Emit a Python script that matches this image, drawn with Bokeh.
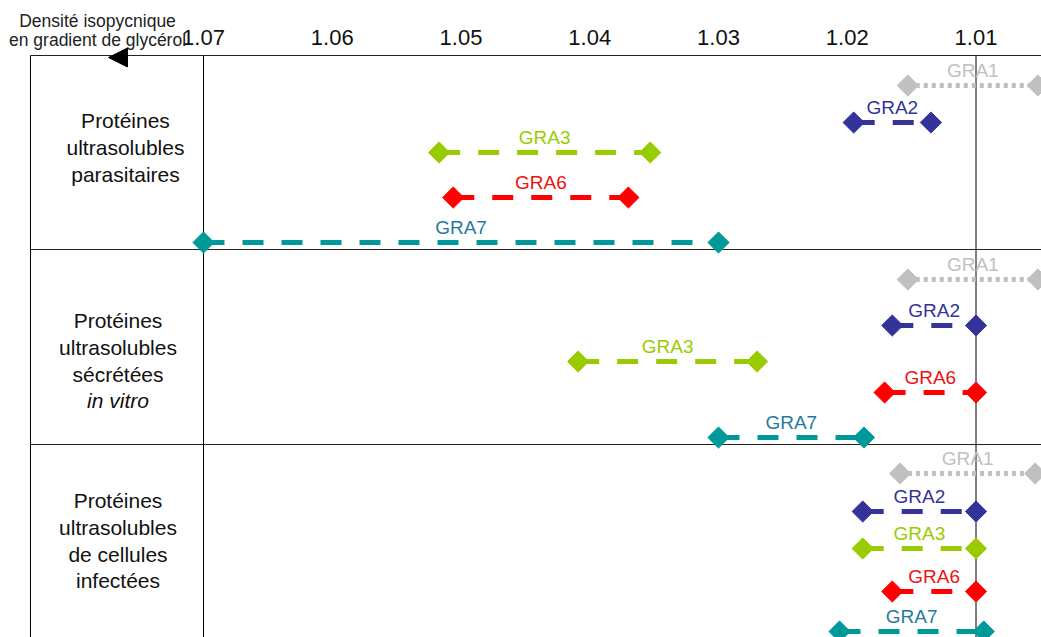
import math
from bokeh.plotting import figure
from bokeh.models import Range1d, Arrow, NormalHead
from bokeh.core.properties import value
from bokeh.embed import file_html
from bokeh.resources import INLINE

# ---------------- data ----------------
proteins = ["GRA1", "GRA2", "GRA3", "GRA6", "GRA7"]
conditions = [
    ["Protéines", "ultrasolubles", "parasitaires"],
    ["Protéines", "ultrasolubles", "sécrétées", "in vitro"],
    ["Protéines", "ultrasolubles", "de cellules", "infectées"],
]
italic_lines = ["in vitro"]
# density at the dense (left) end and at the light (right) end of each range
dense_parasitaires = [1.0153, 1.0195, 1.0517, 1.0506, 1.0700]
light_parasitaires = [1.0052, 1.0135, 1.0353, 1.0370, 1.0300]
dense_secretees = [1.0153, 1.0165, 1.0409, 1.0171, 1.0300]
light_secretees = [1.0052, 1.0100, 1.0270, 1.0100, 1.0187]
dense_cellules = [1.0159, 1.0188, 1.0188, 1.0165, 1.0206]
light_cellules = [1.0054, 1.0100, 1.0100, 1.0100, 1.0094]
density_ticks = [1.07, 1.06, 1.05, 1.04, 1.03, 1.02, 1.01]
tick_labels = ["1.07", "1.06", "1.05", "1.04", "1.03", "1.02", "1.01"]
axis_title = ["Densité isopycnique", "en gradient de glycérol"]

dense = [dense_parasitaires, dense_secretees, dense_cellules]
light = [light_parasitaires, light_secretees, light_cellules]

# ---------------- layout / style ----------------
FONT = value("Liberation Sans")
line_colors = {"GRA1": "#c0c0c0", "GRA2": "#333399", "GRA3": "#99cc00",
               "GRA6": "#ff0000", "GRA7": "#009999"}
text_colors = {"GRA1": "#c0c0c0", "GRA2": "#333399", "GRA3": "#99cc00",
               "GRA6": "#ee1111", "GRA7": "#1f7a9e"}
dashes = {"GRA1": "4 4", "GRA2": "21 18", "GRA3": "21 18", "GRA6": "21 18", "GRA7": "21 18"}

X_START, X_END = 1.085767, 1.004913      # density range across the canvas (reversed)
X_BORDER = 1.083437                      # left border of the table
panel_tops = [55, 249, 444]
Y_BOTTOM = 637
lane_offsets = [[30, 67, 97, 142, 187],
                [30, 76, 112, 143, 188],
                [29, 67, 104, 147, 187]]
cat_first_mid = [65, 71, 56]
cat_line_step = 26.8
cat_x = [1.07606, 1.07664, 1.07664]
title_x = 1.07823
title_mid = [20, 39]
tick_mid = 37

p = figure(width=1041, height=637, output_backend="svg", toolbar_location=None,
           x_range=Range1d(X_START, X_END), y_range=Range1d(Y_BOTTOM, 0),
           x_axis_location=None, y_axis_location=None, min_border=0)
p.outline_line_color = None
p.xgrid.visible = False
p.ygrid.visible = False
p.background_fill_color = "white"
p.border_fill_color = "white"

# table lines
p.segment(x0=[X_BORDER] * 3, y0=panel_tops, x1=[X_END] * 3, y1=panel_tops,
          line_color="#222222", line_width=1.2)
vlines = [X_BORDER, density_ticks[0], density_ticks[-1]]
p.segment(x0=vlines, y0=[panel_tops[0]] * 3, x1=vlines, y1=[Y_BOTTOM] * 3,
          line_color="black", line_width=1)

# density scale labels (top)
p.text(x=density_ticks, y=[tick_mid] * len(density_ticks), text=tick_labels,
       text_align="center", text_baseline="middle", text_font=FONT,
       text_font_size="22px", text_color="#111111")

# ranges
for pi_, top in enumerate(panel_tops):
    for k, name in enumerate(proteins):
        y = top + lane_offsets[pi_][k]
        x0 = dense[pi_][k]
        x1 = light[pi_][k]
        p.segment(x0=[x0], y0=[y], x1=[x1], y1=[y], line_color=line_colors[name],
                  line_width=5, line_dash=dashes[name], line_cap="butt")
        p.scatter(x=[x0, x1], y=[y, y], marker="square", angle=math.pi / 4, size=15,
                  fill_color=line_colors[name], line_color=line_colors[name])
        p.text(x=[(x0 + x1) / 2], y=[y - 15], text=[name], text_align="center",
               text_baseline="middle", text_font=FONT, text_font_size="19px",
               text_color=text_colors[name])

# condition labels
for pi_, top in enumerate(panel_tops):
    for j, line in enumerate(conditions[pi_]):
        p.text(x=[cat_x[pi_]], y=[top + cat_first_mid[pi_] + j * cat_line_step],
               text=[line], text_align="center", text_baseline="middle",
               text_font=FONT, text_font_size="21px", text_color="#111111",
               text_font_style="italic" if line in italic_lines else "normal")

# axis title with arrow
p.text(x=[title_x] * 2, y=title_mid, text=axis_title, text_align="center",
       text_baseline="middle", text_font=FONT, text_font_size="17.5px",
       text_color="#222222")
p.add_layout(Arrow(end=NormalHead(size=19, fill_color="black", line_color="black"),
                   x_start=1.07583, y_start=57, x_end=1.07738, y_end=57,
                   line_alpha=0, line_width=0))

open("out.html", "w").write(file_html(p, INLINE))
